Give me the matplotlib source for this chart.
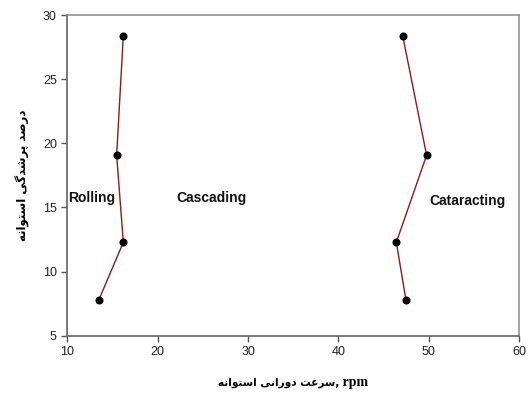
import matplotlib
matplotlib.use("Agg")
import matplotlib.pyplot as plt

# Drum fill level (%) against rotational speed (rpm) for two regime boundaries
fill_pct = [28.4, 19.07, 12.28, 7.76]
speed_low = [16.2, 15.46, 16.2, 13.47]
speed_high = [47.1, 49.75, 46.4, 47.47]

x_ticks = [10, 20, 30, 40, 50, 60]
y_ticks = [5, 10, 15, 20, 25, 30]

regime_labels = ["Rolling", "Cascading", "Cataracting"]
regime_pos = [(10.05, 15.74), (22.1, 15.74), (50.05, 15.53)]

# Persian titles written with Arabic presentation forms in visual order
# x: "سرعت دورانی استوانه"   y: "درصد پرشدگی استوانه"
w_sorat = "\uFEB3\uFEAE\uFECB\uFE96"
w_davarani = "\uFEA9\uFEED\uFEAD\uFE8D\uFEE7\uFEF0"
w_ostovane = "\uFE8D\uFEB3\uFE98\uFEEE\uFE8D\uFEE7\uFEEA"
w_darsad = "\uFEA9\uFEAD\uFEBB\uFEAA"
w_porshodegi = "\uFB58\uFEAE\uFEB7\uFEAA\uFB94\uFEF0"


def visual(words):
    return " ".join(words)[::-1]


x_title_fa = visual([w_sorat, w_davarani, w_ostovane]) + ","
x_title_unit = " rpm"
y_title = visual([w_darsad, w_porshodegi, w_ostovane])

fig = plt.figure(figsize=(5.31, 3.93), dpi=100)
ax = fig.add_axes([0.1267, 0.1458, 0.8512, 0.816])

line_color = "#8b1a1a"
for xs in (speed_low, speed_high):
    ax.plot(xs, fill_pct, color=line_color, lw=1.0, zorder=2)
    ax.plot(xs, fill_pct, ls="none", marker="o", ms=4.8,
            mfc="black", mec="black", zorder=3)

for lab, (px, py) in zip(regime_labels, regime_pos):
    ax.text(px, py, lab, ha="left", va="center", fontsize=10,
            fontweight="bold", family="Liberation Sans", color="#111111")

ax.set_xlim(10, 60)
ax.set_ylim(5, 30)
ax.set_xticks(x_ticks)
ax.set_yticks(y_ticks)
ax.tick_params(direction="out", length=4, width=1, colors="#555555",
               labelcolor="#222222", labelsize=9)
for lbl in ax.get_xticklabels() + ax.get_yticklabels():
    lbl.set_family("Liberation Sans")

for side in ("left", "bottom"):
    ax.spines[side].set_color("#6e6e6e")
    ax.spines[side].set_linewidth(1.3)
for side in ("top", "right"):
    ax.spines[side].set_color("#8a8a8a")
    ax.spines[side].set_linewidth(1.1)

# x title: Persian part and unit set side by side around the axis centre
fig.canvas.draw()
renderer = fig.canvas.get_renderer()
t_fa = fig.text(0, 0, x_title_fa, fontsize=7.6, fontweight="bold",
                family="DejaVu Sans")
t_unit = fig.text(0, 0, x_title_unit, fontsize=10, fontweight="bold",
                  family="Liberation Serif")
w_fa = t_fa.get_window_extent(renderer).width / fig.bbox.width
w_unit = t_unit.get_window_extent(renderer).width / fig.bbox.width
ax_pos = ax.get_position()
x_mid = (ax_pos.x0 + ax_pos.x1) / 2
x_start = x_mid - (w_fa + w_unit) / 2
y_base = 1 - 386 / 393
t_fa.set_position((x_start, y_base))
t_unit.set_position((x_start + w_fa, y_base))

ax.set_ylabel(y_title, fontsize=8.5, fontweight="bold",
              family=["DejaVu Sans"], labelpad=9)

fig.savefig("out.png", dpi=100, facecolor="white")
